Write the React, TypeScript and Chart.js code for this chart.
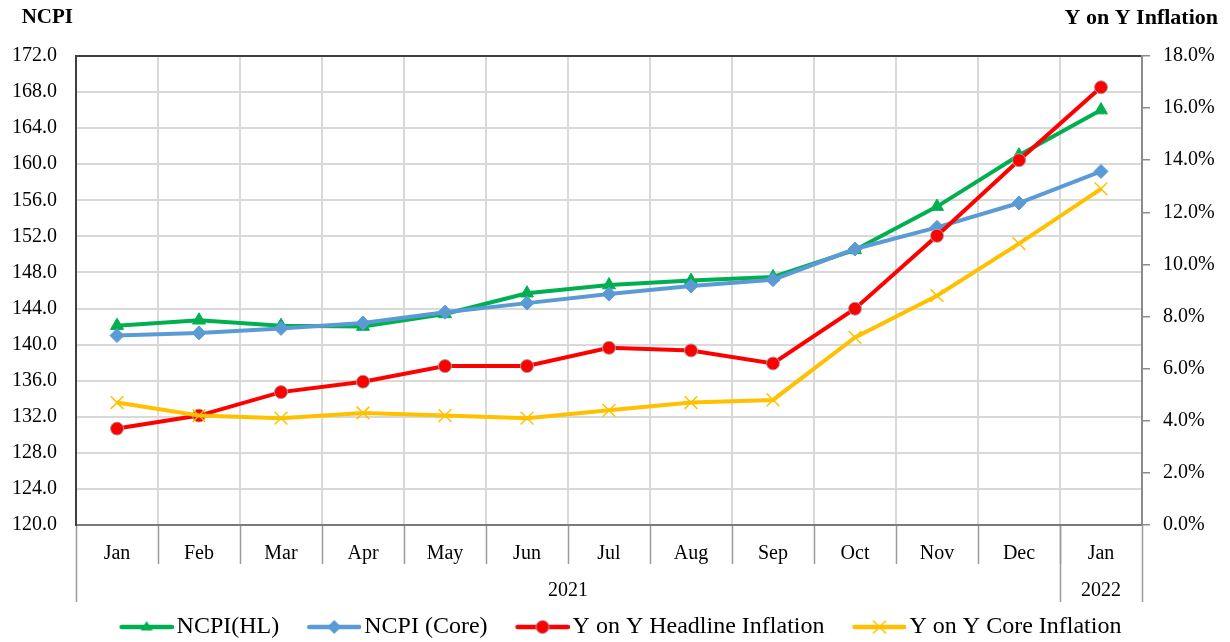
import React, { useEffect, useRef } from "react";
import { Chart, registerables } from "chart.js";

Chart.register(...registerables);

const months = ["Jan", "Feb", "Mar", "Apr", "May", "Jun", "Jul", "Aug", "Sep", "Oct", "Nov", "Dec", "Jan"];
const years = ["2021", "2022"];
const yearSpans = [12, 1];

const ncpiHL = [142.1, 142.7, 142.1, 142.0, 143.4, 145.7, 146.6, 147.1, 147.5, 150.5, 155.3, 161.0, 166.0];
const ncpiCore = [141.0, 141.3, 141.8, 142.4, 143.6, 144.6, 145.6, 146.5, 147.2, 150.6, 153.0, 155.7, 159.2];
const yoyHeadline = [3.7, 4.2, 5.1, 5.5, 6.1, 6.1, 6.8, 6.7, 6.2, 8.3, 11.1, 14.0, 16.8];
const yoyCore = [4.7, 4.2, 4.1, 4.3, 4.2, 4.1, 4.4, 4.7, 4.8, 7.2, 8.8, 10.8, 12.9];

const leftMin = 120;
const leftMax = 172;
const leftStep = 4;
const rightMin = 0;
const rightMax = 18;
const rightStep = 2;

const FONT = "'Liberation Serif', 'Times New Roman', serif";
const GREEN = "#00B050";
const BLUE = "#5B9BD5";
const RED = "#FF0000";
const YELLOW = "#FFC000";

// legend symbol: transparent lead (20px) + 54px line with marker
function makeLegendImage(color: string, kind: string): HTMLCanvasElement {
  const c = document.createElement("canvas");
  c.width = 74;
  c.height = 20;
  const g = c.getContext("2d")!;
  const cy = 10;
  const x0 = 20;
  const x1 = 74;
  g.strokeStyle = color;
  g.lineWidth = 4.5;
  g.lineCap = "round";
  g.beginPath();
  g.moveTo(x0 + 2, cy);
  g.lineTo(x1 - 2, cy);
  g.stroke();
  const cx = (x0 + x1) / 2;
  g.fillStyle = color;
  if (kind === "triangle") {
    g.beginPath();
    g.moveTo(cx, cy - 6);
    g.lineTo(cx + 6, cy + 3.5);
    g.lineTo(cx - 6, cy + 3.5);
    g.closePath();
    g.fill();
  } else if (kind === "diamond") {
    g.beginPath();
    g.moveTo(cx, cy - 7);
    g.lineTo(cx + 7, cy);
    g.lineTo(cx, cy + 7);
    g.lineTo(cx - 7, cy);
    g.closePath();
    g.fill();
  } else if (kind === "circle") {
    g.beginPath();
    g.arc(cx, cy, 6.5, 0, Math.PI * 2);
    g.fill();
    g.strokeStyle = "#a0a0a0";
    g.lineWidth = 1;
    g.stroke();
  } else {
    g.lineWidth = 1.5;
    g.lineCap = "butt";
    g.beginPath();
    g.moveTo(cx - 6.5, cy - 6.5);
    g.lineTo(cx + 6.5, cy + 6.5);
    g.moveTo(cx + 6.5, cy - 6.5);
    g.lineTo(cx - 6.5, cy + 6.5);
    g.stroke();
  }
  return c;
}

const groupAxisPlugin = {
  id: "groupAxis",
  afterDraw(chart: any) {
    const ctx = chart.ctx;
    const x = chart.scales.x;
    const area = chart.chartArea;
    const half = (x.getPixelForValue(1) - x.getPixelForValue(0)) / 2;
    const bottom = area.bottom;
    ctx.save();
    // month separators
    ctx.strokeStyle = "#9a9a9a";
    ctx.lineWidth = 1.5;
    for (let i = 1; i < months.length; i++) {
      const px = Math.round(x.getPixelForValue(i) - half) + 0.5;
      ctx.beginPath();
      ctx.moveTo(px, bottom + 1);
      ctx.lineTo(px, bottom + 39);
      ctx.stroke();
    }
    // group separators and year labels
    let start = 0;
    const bounds: number[] = [x.getPixelForValue(0) - half];
    ctx.fillStyle = "#000";
    ctx.font = `20px ${FONT}`;
    ctx.textAlign = "center";
    ctx.textBaseline = "middle";
    years.forEach((yr, gi) => {
      const end = start + yearSpans[gi] - 1;
      const left = x.getPixelForValue(start) - half;
      const right = x.getPixelForValue(end) + half;
      bounds.push(right);
      ctx.fillText(yr, (left + right) / 2, bottom + 66);
      start = end + 1;
    });
    ctx.strokeStyle = "#9a9a9a";
    bounds.forEach((b) => {
      const px = Math.round(b) + 0.5;
      ctx.beginPath();
      ctx.moveTo(px, bottom + 1);
      ctx.lineTo(px, bottom + 77);
      ctx.stroke();
    });
    // axis titles
    ctx.textBaseline = "middle";
    ctx.textAlign = "right";
    ctx.font = `bold 21px ${FONT}`;
    ctx.fillText("NCPI", area.left - 3, area.top - 38);
    ctx.font = `bold 22px ${FONT}`;
    ctx.fillText("Y on Y Inflation", chart.width - 12, area.top - 38);
    ctx.restore();
  },
};

export default function App() {
  const ref = useRef<HTMLCanvasElement | null>(null);

  useEffect(() => {
    document.body.style.margin = "0";
    if (!ref.current) return;
    const legendImgs = [
      makeLegendImage(GREEN, "triangle"),
      makeLegendImage(BLUE, "diamond"),
      makeLegendImage(RED, "circle"),
      makeLegendImage(YELLOW, "cross"),
    ];
    const chart = new Chart(ref.current, {
      type: "line",
      data: {
        labels: months,
        datasets: [
          {
            label: "NCPI(HL)",
            data: ncpiHL,
            yAxisID: "y",
            borderColor: GREEN,
            backgroundColor: GREEN,
            borderWidth: 4,
            pointStyle: "triangle",
            pointRadius: 7.5,
            pointBackgroundColor: GREEN,
            pointBorderColor: GREEN,
            pointBorderWidth: 1,
            tension: 0,
            order: 3,
          },
          {
            label: "NCPI (Core)",
            data: ncpiCore,
            yAxisID: "y",
            borderColor: BLUE,
            backgroundColor: BLUE,
            borderWidth: 4,
            pointStyle: "rectRot",
            pointRadius: 7,
            pointBackgroundColor: BLUE,
            pointBorderColor: BLUE,
            pointBorderWidth: 1,
            tension: 0,
            order: 2,
          },
          {
            label: "Y on Y Headline Inflation",
            data: yoyHeadline,
            yAxisID: "y1",
            borderColor: RED,
            backgroundColor: RED,
            borderWidth: 4,
            pointStyle: "circle",
            pointRadius: 6.5,
            pointBackgroundColor: RED,
            pointBorderColor: "#a0a0a0",
            pointBorderWidth: 1,
            tension: 0,
            order: 1,
          },
          {
            label: "Y on Y Core Inflation",
            data: yoyCore,
            yAxisID: "y1",
            borderColor: YELLOW,
            backgroundColor: YELLOW,
            borderWidth: 4,
            pointStyle: "crossRot",
            pointRadius: 9,
            pointBackgroundColor: YELLOW,
            pointBorderColor: YELLOW,
            pointBorderWidth: 1.5,
            tension: 0,
            order: 0,
          },
        ],
      },
      options: {
        responsive: false,
        animation: false,
        devicePixelRatio: 1,
        layout: { padding: { top: 56, left: 0, right: 0, bottom: -7 } },
        plugins: {
          tooltip: { enabled: false },
          legend: {
            position: "bottom",
            labels: {
              usePointStyle: true,
              pointStyleWidth: 56,
              padding: 17,
              color: "#000",
              font: { family: FONT, size: 24 },
              generateLabels: (ch: any) =>
                ch.data.datasets.map((ds: any, i: number) => ({
                  text: ds.label,
                  pointStyle: legendImgs[i],
                  fillStyle: ds.borderColor,
                  strokeStyle: ds.borderColor,
                  lineWidth: 0,
                  hidden: !ch.isDatasetVisible(i),
                  datasetIndex: i,
                  fontColor: "#000",
                })),
            },
          },
        },
        scales: {
          x: {
            type: "category",
            offset: true,
            afterFit: (s: any) => {
              s.height = 73;
            },
            grid: {
              offset: true,
              color: "#d9d9d9",
              lineWidth: 2,
              drawTicks: false,
            },
            border: { color: "#7a7a7a", width: 2 },
            ticks: {
              padding: 17,
              color: "#000",
              font: { family: FONT, size: 20 },
              maxRotation: 0,
              autoSkip: false,
            },
          },
          y: {
            position: "left",
            min: leftMin,
            max: leftMax,
            afterFit: (s: any) => {
              s.width = 76;
            },
            grid: {
              color: (c: any) => (c.tick && c.tick.value === leftMax ? "#404040" : "#d9d9d9"),
              lineWidth: 2,
              drawTicks: false,
            },
            border: { color: "#404040", width: 2 },
            ticks: {
              stepSize: leftStep,
              padding: 19,
              color: "#000",
              font: { family: FONT, size: 20 },
              callback: (v: any) => Number(v).toFixed(1),
            },
          },
          y1: {
            position: "right",
            min: rightMin,
            max: rightMax,
            afterFit: (s: any) => {
              s.width = 88;
            },
            grid: {
              drawOnChartArea: false,
              drawTicks: true,
              tickLength: 8,
              color: "#8c8c8c",
              lineWidth: 1.5,
            },
            border: { color: "#8c8c8c", width: 2 },
            ticks: {
              stepSize: rightStep,
              padding: 13,
              color: "#000",
              font: { family: FONT, size: 20 },
              callback: (v: any) => Number(v).toFixed(1) + "%",
            },
          },
        },
      },
      plugins: [groupAxisPlugin],
    });
    return () => chart.destroy();
  }, []);

  return (
    <div style={{ width: 1230, height: 642 }}>
      <canvas ref={ref} width={1230} height={642} style={{ display: "block" }} />
    </div>
  );
}
